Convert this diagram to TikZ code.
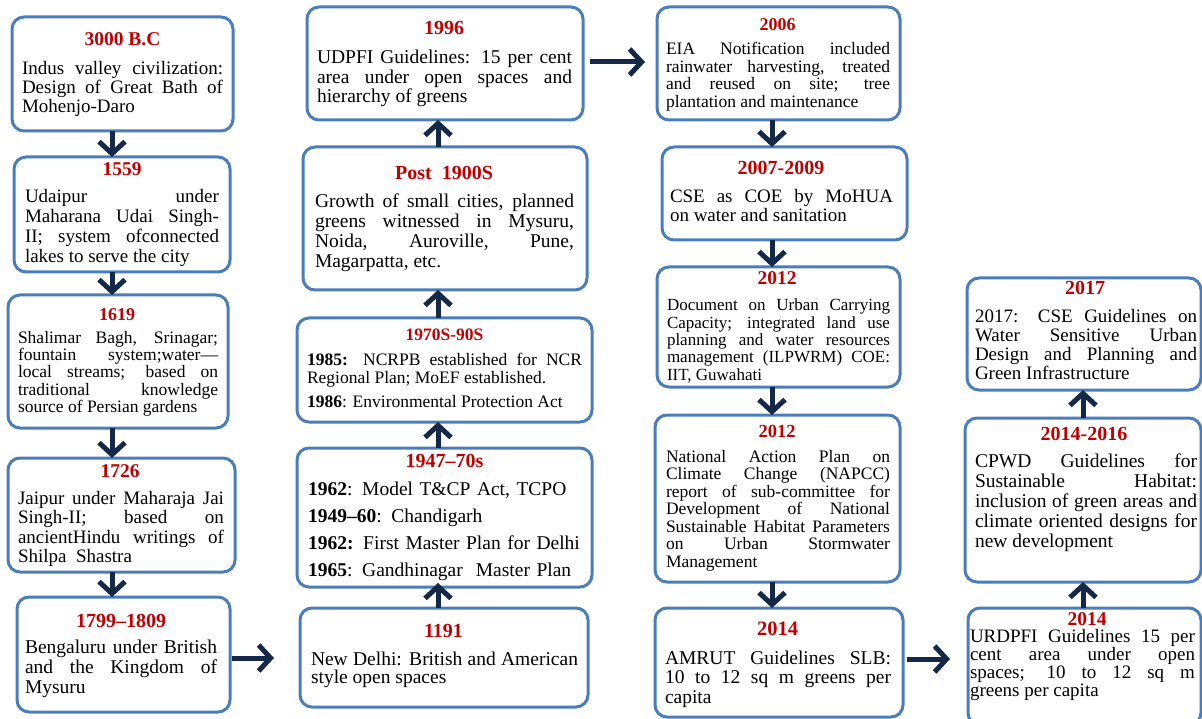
\documentclass[tikz,border=0pt]{standalone}
\usepackage{fontspec}
\setmainfont{Liberation Serif}
\usetikzlibrary{arrows.meta,fit}
\definecolor{boxblue}{RGB}{74,126,187}
\definecolor{arrnavy}{RGB}{20,40,72}
\definecolor{titlered}{RGB}{192,0,0}
\tikzset{
  box/.style={draw=boxblue, line width=3pt, rounded corners=12pt, inner sep=0pt, outer sep=0pt, fill=white},
  ttl/.style={anchor=base, inner sep=0pt, outer sep=0pt, text=titlered, font=\bfseries\fontsize{#1}{#1}\selectfont},
  ttl/.default=20,
  fsz/.style 2 args={font=\fontsize{#1}{#2}\selectfont},
  body/.style={anchor=base west, inner sep=0pt, outer sep=0pt, align=justify, text=black,
    execute at begin node={\tolerance=10000\hyphenpenalty=10000\exhyphenpenalty=10000}},
  arr/.style={draw=arrnavy, line width=5pt, -{Straight Barb[length=12pt, width=26pt]}},
}
\begin{document}
\begin{tikzpicture}[x=1pt, y=-1pt]
\useasboundingbox (0,0) rectangle (1202,719);
\clip (0,0) rectangle (1202,719);
% ---------- column 1 ----------
\node[box, fit={(12,17)(233,131)}] (a1) {};
\node[ttl=19.5] (a1t) at (122.5,46) {3000 B.C};
\node[body, fsz={19}{19}, text width=201pt] (a1b) at (22,75) {Indus valley civilization:\linebreak Design of Great Bath of\linebreak Mohenjo-Daro};

\node[box, fit={(14,157)(230,272)}] (a2) {};
\node[ttl=19.5] (a2t) at (122,176) {1559};
\node[body, fsz={19}{19.7}, text width=194pt] (a2b) at (25,203) {Udaipur under\linebreak Maharana Udai Singh-\linebreak II; system ofconnected\linebreak lakes to serve the city};

\node[box, fit={(8,295)(228,428)}] (a3) {};
\node[ttl=18] (a3t) at (117,320) {1619};
\node[body, fsz={17.5}{17.5}, text width=200pt] (a3b) at (18,343) {Shalimar Bagh, Srinagar;\linebreak fountain system;water—\linebreak local streams; based on\linebreak traditional knowledge\linebreak source of Persian gardens};

\node[box, fit={(8,458)(235,572)}] (a4) {};
\node[ttl=19.5] (a4t) at (120,477) {1726};
\node[body, fsz={19}{19.5}, text width=206pt] (a4b) at (18,504) {Jaipur under Maharaja Jai\linebreak Singh-II; based on\linebreak ancientHindu writings of\linebreak Shilpa~~Shastra};

\node[box, fit={(17,597)(230,712)}] (a5) {};
\node[ttl=20] (a5t) at (121,627) {1799–1809};
\node[body, fsz={19.5}{20}, text width=192pt] (a5b) at (25,653) {Bengaluru under British\linebreak and the Kingdom of\linebreak Mysuru};

% ---------- column 2 ----------
\node[box, fit={(307,7)(583,120)}] (b5) {};
\node[ttl=20] (b5t) at (444,35) {1996};
\node[body, fsz={19.5}{19.5}, text width=255pt] (b5b) at (317,64) {UDPFI Guidelines: 15 per cent\linebreak area under open spaces and\linebreak hierarchy of greens};

\node[box, fit={(303,147)(587,290)}] (b4) {};
\node[ttl=20] (b4t) at (444,180) {Post~~1900S};
\node[body, fsz={19.5}{19.7}, text width=259pt] (b4b) at (315,208) {Growth of small cities, planned\linebreak greens witnessed in Mysuru,\linebreak Noida, Auroville, Pune,\linebreak Magarpatta, etc.};

\node[box, fit={(297,318)(592,422)}] (b3) {};
\node[ttl=17.5] (b3t) at (444.5,341) {1970S-90S};
\node[body, fsz={17.5}{18}, text width=275pt] (b3b) at (307,365) {\textbf{1985:} NCRPB established for NCR\linebreak Regional Plan; MoEF established.\par\vspace{6pt}\textbf{1986}: Environmental Protection Act};

\node[box, fit={(297,448)(592,587)}] (b2) {};
\node[ttl=20] (b2t) at (444.5,467) {1947–70s};
\node[body, align=left, fsz={19.5}{27.3}, text width=275pt] (b2b) at (308,495) {\textbf{1962}: Model T\&CP Act, TCPO\\\textbf{1949–60}: Chandigarh\\\textbf{1962:} First Master Plan for Delhi\\\textbf{1965}: Gandhinagar~~Master Plan};

\node[box, fit={(300,608)(588,707)}] (b1) {};
\node[ttl=20] (b1t) at (443.5,637) {1191};
\node[body, fsz={19.5}{18.5}, text width=267pt] (b1b) at (311,665) {New Delhi: British and American\linebreak style open spaces};

% ---------- column 3 ----------
\node[box, fit={(657,7)(900,120)}] (c1) {};
\node[ttl=18] (c1t) at (777.5,31) {2006};
\node[body, fsz={17.5}{17.5}, text width=224pt] (c1b) at (666,55) {EIA Notification included\linebreak rainwater harvesting, treated\linebreak and reused on site; tree\linebreak plantation and maintenance};

\node[box, fit={(662,147)(907,240)}] (c2) {};
\node[ttl=20] (c2t) at (781,175) {2007-2009};
\node[body, fsz={19}{19}, text width=223pt] (c2b) at (670,203) {CSE as COE by MoHUA\linebreak on water and sanitation};

\node[box, fit={(657,267)(900,387)}] (c3) {};
\node[ttl=19.5] (c3t) at (777,285) {2012};
\node[body, fsz={17}{17.3}, text width=223pt] (c3b) at (667,311) {Document on Urban Carrying\linebreak Capacity; integrated land use\linebreak planning and water resources\linebreak management (ILPWRM) COE:\linebreak IIT, Guwahati};

\node[box, fit={(655,415)(900,582)}] (c4) {};
\node[ttl=18.5] (c4t) at (777,437) {2012};
\node[body, fsz={17.5}{17.5}, text width=224pt] (c4b) at (666,462) {National Action Plan on\linebreak Climate Change (NAPCC)\linebreak report of sub-committee for\linebreak Development of National\linebreak Sustainable Habitat Parameters\linebreak on Urban Stormwater\linebreak Management};

\node[box, fit={(655,608)(903,717)}] (c5) {};
\node[ttl=20.5] (c5t) at (777.5,635) {2014};
\node[body, fsz={19.5}{19.5}, text width=226pt] (c5b) at (665,664) {AMRUT Guidelines SLB:\linebreak 10 to 12 sq m greens per\linebreak capita};

% ---------- column 4 ----------
\node[box, fit={(967,278)(1201,390)}] (d3) {};
\node[ttl=20] (d3t) at (1085,295) {2017};
\node[body, fsz={19}{18.7}, text width=222pt] (d3b) at (975,323) {2017: CSE Guidelines on\linebreak Water Sensitive Urban\linebreak Design and Planning and\linebreak Green Infrastructure};

\node[box, fit={(965,418)(1201,582)}] (d2) {};
\node[ttl=20] (d2t) at (1084,440) {2014-2016};
\node[body, fsz={19.5}{20}, text width=222pt] (d2b) at (975,467) {CPWD Guidelines for\linebreak Sustainable Habitat:\linebreak inclusion of green areas and\linebreak climate oriented designs for\linebreak new development};

\node[box, fit={(968,608)(1201,725)}] (d1) {};
\node[ttl=19.5] (d1t) at (1087,625) {2014};
\node[body, fsz={19}{18.3}, text width=225pt] (d1b) at (970,642) {URDPFI Guidelines 15 per\linebreak cent area under open\linebreak spaces; 10 to 12 sq m\linebreak greens per capita};

% ---------- connectors ----------
\coordinate (x1) at (112,0);
\coordinate (x2) at (438,0);
\coordinate (x3) at (772,0);
\coordinate (x4) at (1083,0);
\coordinate (h1) at (0,658);
\coordinate (h2) at (0,62);
\coordinate (h3) at (0,659);

\draw[arr] (a1.south -| x1) -- (a2.north -| x1);
\draw[arr] (a2.south -| x1) -- (a3.north -| x1);
\draw[arr] (a3.south -| x1) -- (a4.north -| x1);
\draw[arr] (a4.south -| x1) -- (a5.north -| x1);
\draw[arr, shorten <=2pt, shorten >=26pt] (a5.east |- h1) -- (b1.west |- h1);

\draw[arr, shorten >=-4pt] (b1.north -| x2) -- (b2.south -| x2);
\draw[arr] (b2.north -| x2) -- (b3.south -| x2);
\draw[arr] (b3.north -| x2) -- (b4.south -| x2);
\draw[arr] (b4.north -| x2) -- (b5.south -| x2);
\draw[arr, shorten <=7pt, shorten >=12pt] (b5.east |- h2) -- (c1.west |- h2);

\draw[arr] (c1.south -| x3) -- (c2.north -| x3);
\draw[arr] (c2.south -| x3) -- (c3.north -| x3);
\draw[arr] (c3.south -| x3) -- (c4.north -| x3);
\draw[arr] (c4.south -| x3) -- (c5.north -| x3);
\draw[arr, shorten <=4pt, shorten >=18pt] (c5.east |- h3) -- (d1.west |- h3);

\draw[arr] (d1.north -| x4) -- (d2.south -| x4);
\draw[arr] (d2.north -| x4) -- (d3.south -| x4);
\end{tikzpicture}
\end{document}
